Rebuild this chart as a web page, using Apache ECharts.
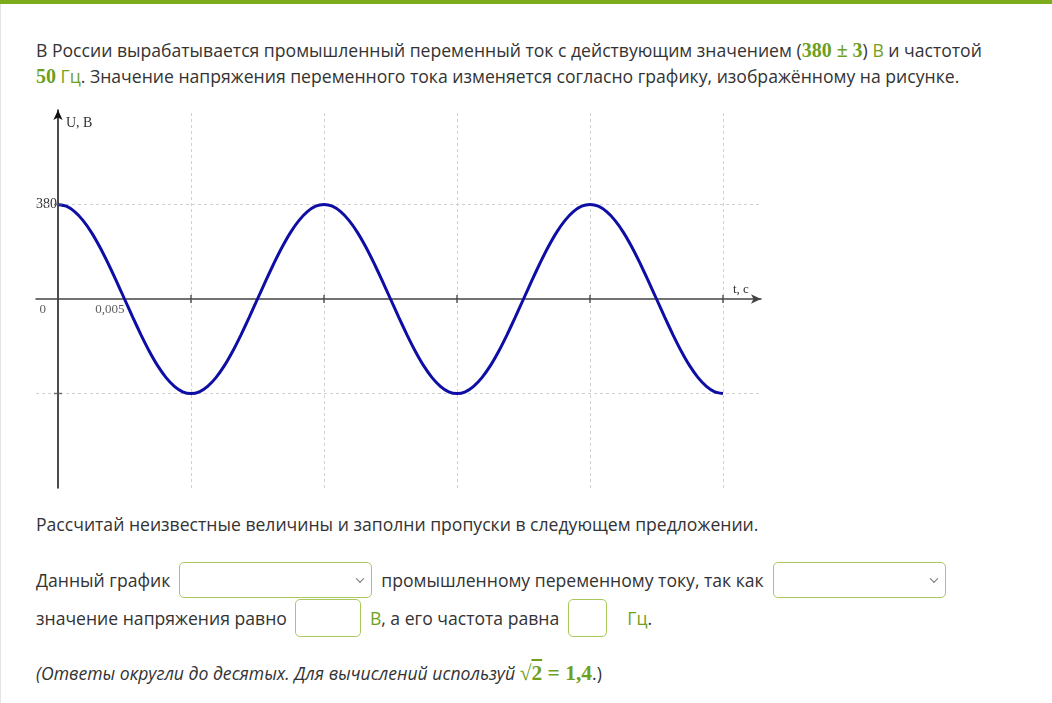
<!DOCTYPE html>
<html>
<head>
<meta charset="utf-8">
<script src="https://cdn.jsdelivr.net/npm/echarts@6/dist/echarts.min.js"></script>
<style>
  html, body { margin:0; padding:0; background:#fff; }
  body { width:1052px; height:703px; position:relative; overflow:hidden;
         font-family:"Open Sans","Noto Sans",sans-serif; color:#333; font-size:17.6px; }
  .topbar { position:absolute; left:0; top:0; width:1052px; height:4px; background:#7cac1c; }
  .leftbar { position:absolute; left:0; top:4px; width:1px; height:699px; background:#e4e4e4; }
  .line { position:absolute; left:36px; white-space:nowrap; line-height:26px; }
  .g { color:#6f9f1e; }
  .m { font-family:"Liberation Serif","DejaVu Serif",serif; font-size:20px; font-weight:bold; }
  .row { position:absolute; left:36px; display:flex; align-items:center; white-space:nowrap; }
  .sel { box-sizing:border-box; border:1.5px solid #a9c95e; border-radius:5px; background:#fff; position:relative; }
  .sel .car { position:absolute; right:8px; top:50%; width:5px; height:5px; border-right:1.3px solid #777; border-bottom:1.3px solid #777; transform:translateY(-70%) rotate(45deg); }
  #chart { position:absolute; left:0; top:100px; width:800px; height:400px; }
</style>
</head>
<body>
<div class="topbar"></div>
<div class="leftbar"></div>
<div class="line" style="top:37px">В России вырабатывается промышленный переменный ток с действующим значением (<span class="m g">380 ± 3</span>) <span class="g">В</span> и частотой</div>
<div class="line" style="top:63px"><span class="m g">50</span> <span class="g">Гц</span>. Значение напряжения переменного тока изменяется согласно графику, изображённому на рисунке.</div>
<div id="chart"></div>
<div class="line" style="top:511px">Рассчитай неизвестные величины и заполни пропуски в следующем предложении.</div>
<div class="row" style="top:562px;height:36px">
  <span>Данный график</span>
  <span class="sel" style="margin-left:9px;width:193px;height:36px"><span class="car"></span></span>
  <span style="margin-left:9px">промышленному переменному току, так как</span>
  <span class="sel" style="margin-left:9px;width:173px;height:36px"><span class="car"></span></span>
</div>
<div class="row" style="top:599px;height:38px">
  <span>значение напряжения равно</span>
  <span class="sel" style="margin-left:8px;width:66px;height:38px"></span>
  <span class="g" style="margin-left:9px">В</span><span>, а его частота равна</span>
  <span class="sel" style="margin-left:9px;width:39px;height:38px"></span>
  <span class="g" style="margin-left:20px">Гц</span><span>.</span>
</div>
<div class="line" style="top:660px"><i>(Ответы округли до десятых. Для вычислений используй</i> <span class="m g" style="font-size:21.5px">√<span style="text-decoration:overline">2</span> = 1,4</span>.)</div>
<script>
// time, s (step 0.000625 s)
const times = [];
for (let i = 0; i <= 80; i++) times.push(+(i * 0.000625).toFixed(6));
// voltage, V (one period = 32 readings)
const onePeriod = [380,373,351,316,269,211,145,74,0,-74,-145,-211,-269,-316,-351,-373,
  -380,-373,-351,-316,-269,-211,-145,-74,0,74,145,211,269,316,351,373];
const voltage = [...onePeriod, ...onePeriod,
  380,373,351,316,269,211,145,74,0,-74,-145,-211,-269,-316,-351,-373,-380];
const gridTimes = [0.005,0.01,0.015,0.02,0.025,0.03,0.035,0.04,0.045,0.05];
const tickTimes = [0.01,0.02,0.03,0.04,0.05];
const gridVolts = [380,-380];
const xLabels = [[0,'0',-12],[0.005,'0,005',0]];
const yLabels = [[380,'380']];

const chart = echarts.init(document.getElementById('chart'), null, {renderer:'canvas'});
const serif = '"Liberation Serif","DejaVu Serif",serif';
const dashStyle = {color:'#d0d0d0', width:1, type:[3,3]};
chart.setOption({
  animation:false,
  grid:{left:36, right:39, top:10, bottom:12},
  xAxis:{type:'value', min:-0.001654, max:0.052857,
    axisLine:{show:true, onZero:true, symbol:['none','arrow'], symbolSize:[7,10], lineStyle:{color:'#444', width:1.5}},
    axisTick:{show:false}, axisLabel:{show:false}, splitLine:{show:false},
    name:'t, c', nameLocation:'end', nameGap:-28,
    nameTextStyle:{fontFamily:serif, fontSize:13, color:'#333', verticalAlign:'bottom', align:'left', padding:[0,0,3,0]}},
  yAxis:{type:'value', min:-760, max:760, interval:380,
    axisLine:{show:true, onZero:true, symbol:['none','arrow'], symbolSize:[7,10], lineStyle:{color:'#111', width:1.5}},
    axisTick:{show:false}, splitLine:{show:false},
    axisLabel:{show:true, margin:-21, fontFamily:serif, fontSize:14, color:'#333',
      formatter:v => { const f = yLabels.find(l => l[0]===v); return f ? f[1] : ''; }},
    name:'U, B', nameLocation:'end', nameGap:-20,
    nameTextStyle:{fontFamily:serif, fontSize:14, color:'#333', align:'left', padding:[0,0,0,8]}},
  series:[
    {type:'line', data: times.map((t,i)=>[t, voltage[i]]), smooth:0.2, showSymbol:false,
      lineStyle:{color:'#0e0ea4', width:3}, z:5,
      markLine:{silent:true, symbol:['none','none'], label:{show:false}, lineStyle:dashStyle,
        data:[...gridTimes.map(t=>({xAxis:t})), ...gridVolts.map(v=>({yAxis:v}))]}},
    {type:'scatter', data: tickTimes.map(t=>[t,0]), symbol:'rect', symbolSize:[1.5,8], itemStyle:{color:'#333'}, silent:true, z:6},
    {type:'scatter', data: gridVolts.map(v=>[0,v]), symbol:'rect', symbolSize:[8,1.5], itemStyle:{color:'#555'}, silent:true, z:6},
    {type:'scatter', data: xLabels.map(l=>({value:[l[0],0], name:l[1], label:{offset:[l[2],0]}})), symbolSize:0, silent:true, z:6,
      label:{show:true, formatter:p=>p.name, position:'bottom', distance:4, fontFamily:serif, fontSize:13, color:'#333', align:'right'}}
  ]
});
</script>
</body>
</html>
